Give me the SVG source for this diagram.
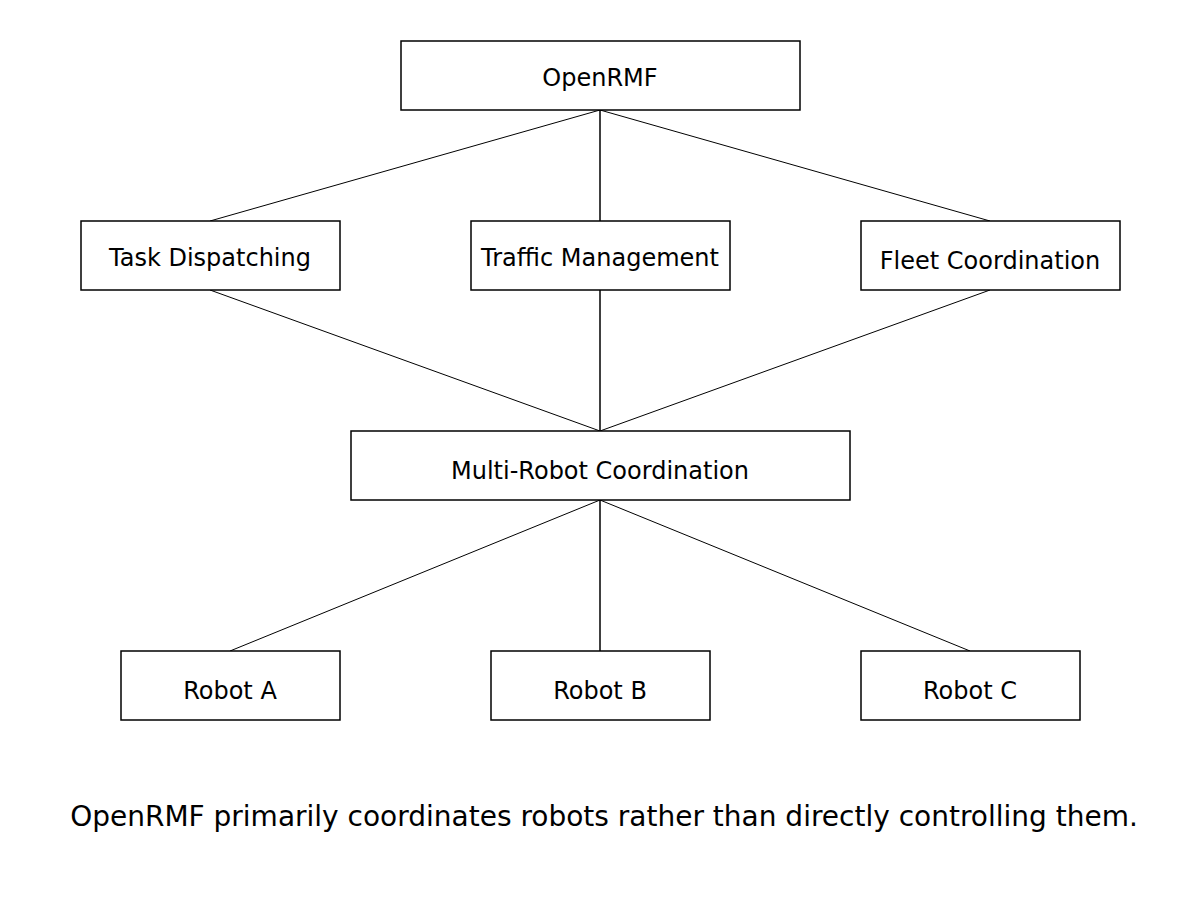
<svg xmlns="http://www.w3.org/2000/svg" width="1200" height="900" viewBox="0 0 1200 900">
<style>
.box{fill:#fff;stroke:#000;stroke-width:1.5}
.lbl{font-family:"DejaVu Sans",sans-serif;font-size:24px;text-anchor:middle;fill:#000}
.cap{font-family:"DejaVu Sans",sans-serif;font-size:28px;text-anchor:middle;fill:#000}
.edge{stroke:#000;stroke-width:1;fill:none}
.v{stroke-width:1.5}
</style>
<rect width="1200" height="900" fill="#fff"/>
<g id="connectors">
<line class="edge" x1="600" y1="110" x2="210" y2="221"/>
<line class="edge v" x1="600" y1="110" x2="600" y2="221"/>
<line class="edge" x1="600" y1="110" x2="990" y2="221"/>
<line class="edge" x1="210" y1="290" x2="600" y2="431"/>
<line class="edge v" x1="600" y1="290" x2="600" y2="431"/>
<line class="edge" x1="990" y1="290" x2="600" y2="431"/>
<line class="edge" x1="600" y1="500" x2="230" y2="651"/>
<line class="edge v" x1="600" y1="500" x2="600" y2="651"/>
<line class="edge" x1="600" y1="500" x2="970" y2="651"/>
</g>
<g id="openrmf"><rect class="box" x="401" y="41" width="399" height="69"/><text class="lbl" x="600" y="86">OpenRMF</text></g>
<g id="task"><rect class="box" x="81" y="221" width="259" height="69"/><text class="lbl" x="210" y="266">Task Dispatching</text></g>
<g id="traffic"><rect class="box" x="471" y="221" width="259" height="69"/><text class="lbl" x="600" y="266">Traffic Management</text></g>
<g id="fleet"><rect class="box" x="861" y="221" width="259" height="69"/><text class="lbl" x="990" y="269">Fleet Coordination</text></g>
<g id="multi"><rect class="box" x="351" y="431" width="499" height="69"/><text class="lbl" x="600" y="479">Multi-Robot Coordination</text></g>
<g id="robotA"><rect class="box" x="121" y="651" width="219" height="69"/><text class="lbl" x="230" y="699">Robot A</text></g>
<g id="robotB"><rect class="box" x="491" y="651" width="219" height="69"/><text class="lbl" x="600" y="699">Robot B</text></g>
<g id="robotC"><rect class="box" x="861" y="651" width="219" height="69"/><text class="lbl" x="970" y="699">Robot C</text></g>
<text class="cap" x="604" y="826">OpenRMF primarily coordinates robots rather than directly controlling them.</text>
</svg>
